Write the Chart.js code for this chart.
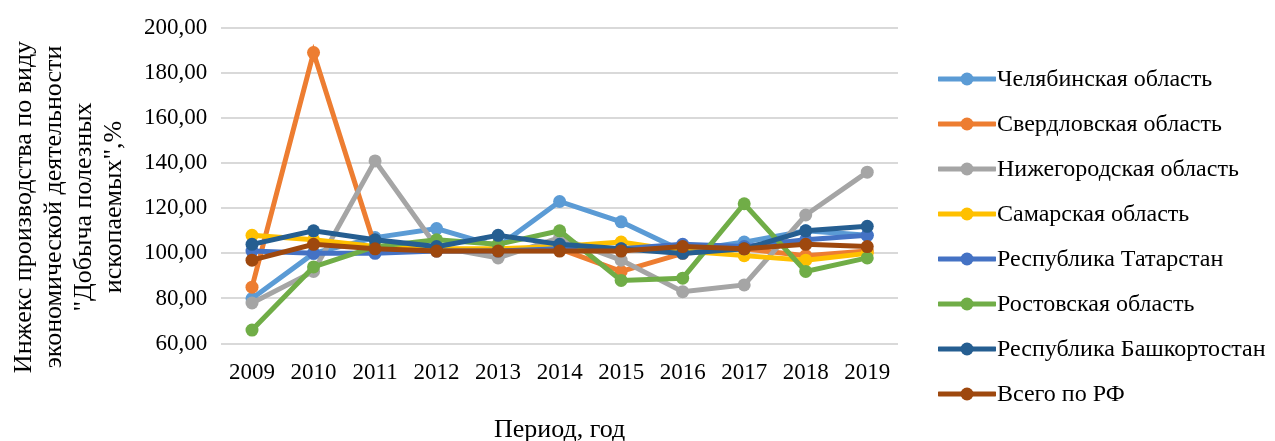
<!DOCTYPE html>
<html>
<head>
<meta charset="utf-8">
<script src="https://cdn.jsdelivr.net/npm/chart.js@4"></script>
<style>
    body { margin: 0; background: #fff; }
    #wrap { position: relative; width: 1275px; height: 441px; }
    #legende { position: absolute; left: 938px; top: 56px; font-family: "Liberation Serif", serif; font-size: 24px; color: #000; }
    .item { height: 45px; display: flex; align-items: center; white-space: nowrap; }
    .item svg { margin-right: 1px; }
    #titreY { position: absolute; left: -132px; top: 147px; width: 400px; height: 120px; transform: rotate(-90deg);
        font-family: "Liberation Serif", serif; font-size: 26px; line-height: 30px; text-align: center; color: #000; white-space: nowrap; }
</style>
</head>
<body>
<div id="wrap">
    <canvas id="canvasIndice"></canvas>
    <div id="titreY"></div>
    <div id="legende"></div>
</div>
<script>
const annees = ["2009", "2010", "2011", "2012", "2013", "2014", "2015", "2016", "2017", "2018", "2019"]
const regions = ["Челябинская область", "Свердловская область", "Нижегородская область", "Самарская область",
    "Республика Татарстан", "Ростовская область", "Республика Башкортостан", "Всего по РФ"]
const couleurs = ["#5B9BD5", "#ED7D31", "#A5A5A5", "#FFC000", "#4472C4", "#70AD47", "#255E91", "#9E480E"]

const chelyabinsk  = [80, 100, 107, 111, 103, 123, 114, 101, 105, 110, 108]
const sverdlovsk   = [85, 189, 103, 101, 101, 102, 92, 100, 102, 99, 101]
const nizhny       = [78, 92, 141, 103, 98, 107, 97, 83, 86, 117, 136]
const samara       = [108, 106, 103, 102, 102, 103, 105, 101, 99, 97, 100]
const tatarstan    = [101, 100, 100, 101, 101, 102, 102, 104, 103, 106, 108]
const rostov       = [66, 94, 103, 106, 104, 110, 88, 89, 122, 92, 98]
const bashkortostan = [104, 110, 106, 103, 108, 104, 102, 100, 102, 110, 112]
const russie       = [97, 104, 102, 101, 101, 101, 101, 103, 102, 104, 103]

const series = [chelyabinsk, sverdlovsk, nizhny, samara, tatarstan, rostov, bashkortostan, russie]
const titreY = ["Инжекс производства по виду", "экономической деятельности", "\"Добыча полезных", "ископаемых\",%"]
const titreX = "Период, год"

const police = "'Liberation Serif', 'Times New Roman', serif"

// datasets, le dernier doit etre dessiné au dessus
let datasets = []
for (let i = 0; i < series.length; i++) {
    datasets.push({
        label: regions[i],
        data: series[i],
        borderColor: couleurs[i],
        backgroundColor: couleurs[i],
        borderWidth: 5,
        pointRadius: 6.5,
        pointBorderWidth: 0,
        pointHoverRadius: 7,
        tension: 0,
        order: series.length - 1 - i
    })
}

new Chart(document.getElementById("canvasIndice"), {
    type: 'line',
    data: { labels: annees, datasets: datasets },
    options: {
        responsive: true,
        maintainAspectRatio: false,
        animation: false,
        layout: { padding: { left: 130, right: 377, top: 7, bottom: 0 } },
        plugins: { legend: { display: false }, tooltip: { enabled: false } },
        scales: {
            x: {
                offset: true,
                grid: { display: false },
                border: { display: false },
                ticks: { color: '#000', font: { family: police, size: 23 }, padding: 8 },
                title: { display: true, text: titreX, color: '#000', font: { family: police, size: 26, lineHeight: 0.8 }, padding: { top: 25, bottom: 0 } }
            },
            y: {
                min: 60,
                max: 200,
                ticks: {
                    stepSize: 20,
                    color: '#000',
                    font: { family: police, size: 23 },
                    padding: 14,
                    callback: function(value) {
                        return value.toFixed(2).replace(".", ",")
                    }
                },
                grid: { color: '#d9d9d9', lineWidth: 2, drawTicks: false },
                border: { display: false }
            }
        }
    }
})

// titre de l'axe y en html (centré plus bas que la zone du graph)
document.getElementById("titreY").innerHTML = titreY.join("<br>")

// légende html à droite
let legende = document.getElementById("legende")
for (let i = 0; i < regions.length; i++) {
    let div = document.createElement("div")
    div.className = "item"
    div.innerHTML = '<svg width="58" height="16"><line x1="1" y1="8" x2="57" y2="8" stroke="' + couleurs[i] +
        '" stroke-width="5" stroke-linecap="round"/><circle cx="29" cy="8" r="6.5" fill="' + couleurs[i] + '"/></svg>' +
        '<span>' + regions[i] + '</span>'
    legende.appendChild(div)
}
</script>
</body>
</html>
